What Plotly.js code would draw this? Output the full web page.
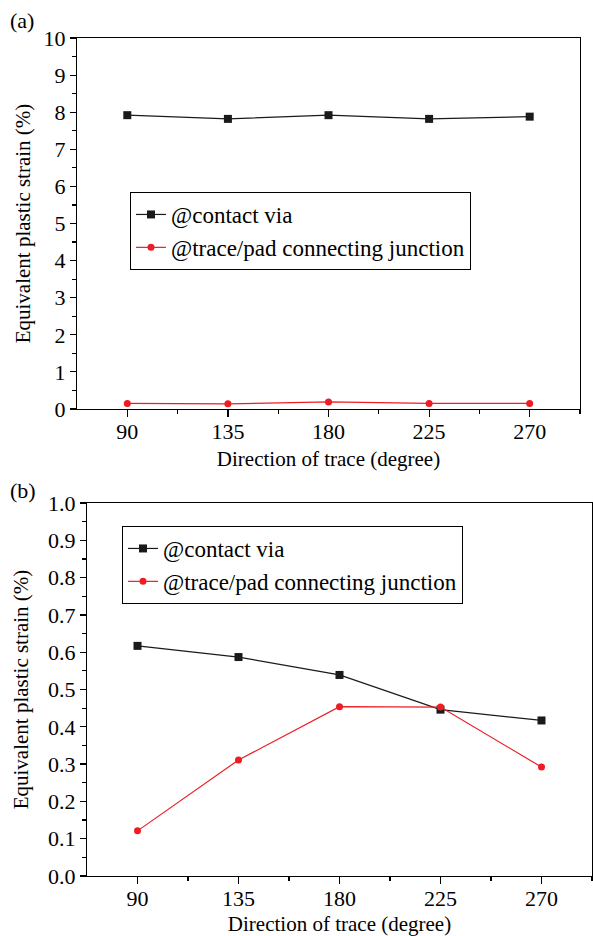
<!DOCTYPE html>
<html><head><meta charset="utf-8">
<script src="https://cdn.plot.ly/plotly-3.0.1.min.js"></script>
<style>html,body{margin:0;padding:0;background:#fff}</style>
</head><body>
<div id="chart" style="width:593px;height:936px"></div>
<script>
const directions = [90, 135, 180, 225, 270];
const tickLabels = ['90', '135', '180', '225', '270'];
const aContactVia = [7.92, 7.82, 7.92, 7.82, 7.88];
const aJunction = [0.15, 0.14, 0.19, 0.15, 0.15];
const bContactVia = [0.617, 0.587, 0.539, 0.446, 0.417];
const bJunction = [0.121, 0.311, 0.454, 0.453, 0.292];
const seriesNames = ['@contact via', '@trace/pad connecting junction'];

const FONT = "'Liberation Serif', 'Times New Roman', serif";
const W = 593, H = 936;
const px = v => v / W, py = v => 1 - v / H;

const blackLine = {color: '#1a1a1a', width: 1.2};
const redLine = {color: '#ee1c25', width: 1.2};
const sq = {symbol: 'square', size: 8, color: '#1a1a1a'};
const ci = {symbol: 'circle', size: 7, color: '#ee1c25'};

const traces = [
  {x: directions, y: aContactVia, name: seriesNames[0], mode: 'lines+markers', line: blackLine, marker: sq, xaxis: 'x', yaxis: 'y', legend: 'legend'},
  {x: directions, y: aJunction, name: seriesNames[1], mode: 'lines+markers', line: redLine, marker: ci, xaxis: 'x', yaxis: 'y', legend: 'legend'},
  {x: directions, y: bContactVia, name: seriesNames[0], mode: 'lines+markers', line: blackLine, marker: sq, xaxis: 'x2', yaxis: 'y2', legend: 'legend2'},
  {x: directions, y: bJunction, name: seriesNames[1], mode: 'lines+markers', line: redLine, marker: ci, xaxis: 'x2', yaxis: 'y2', legend: 'legend2'}
];

const tickFont = {family: FONT, size: 22, color: '#000'};
const titleFont = {family: FONT, size: 21, color: '#000'};
const xr = [67.5, 292.5];

function xAxis(domain, anchor) {
  return {domain, anchor, range: xr, tickvals: directions, ticktext: tickLabels,
    ticks: 'outside', ticklen: 7, tickwidth: 1.2, tickcolor: '#000', ticklabelstandoff: -5,
    minor: {tickvals: [112.5, 157.5, 202.5, 247.5, 292.5], ticks: 'outside', ticklen: 4, tickwidth: 1.2, tickcolor: '#000'},
    showline: true, linecolor: '#000', linewidth: 1.2, mirror: true, showgrid: false, zeroline: false,
    tickfont: tickFont, title: {text: 'Direction of trace (degree)', font: titleFont, standoff: 8}};
}
function yAxis(domain, anchor, range, dtick, minorD, fmt, standoff) {
  return {domain, anchor, range, dtick, tick0: 0, tickformat: fmt,
    ticks: 'outside', ticklen: 6, tickwidth: 1.2, tickcolor: '#000',
    minor: {dtick: minorD, tick0: 0, ticks: 'outside', ticklen: 4, tickwidth: 1.2, tickcolor: '#000'},
    showline: true, linecolor: '#000', linewidth: 1.2, mirror: true, showgrid: false, zeroline: false,
    tickfont: tickFont, title: {text: 'Equivalent plastic strain (%)', font: titleFont, standoff}};
}
function xMirror(over, domain, anchor) {
  return {overlaying: over, side: 'top', anchor, domain, range: xr, tickvals: directions,
    ticks: 'inside', ticklen: 7, tickwidth: 1.2, tickcolor: '#000', showticklabels: false,
    minor: {tickvals: [112.5, 157.5, 202.5, 247.5], ticks: 'inside', ticklen: 5, tickwidth: 1.2, tickcolor: '#000'},
    showline: false, showgrid: false, zeroline: false};
}
function yMirror(over, domain, anchor, range, dtick, minorD) {
  return {overlaying: over, side: 'right', anchor, domain, range, dtick, tick0: 0,
    ticks: 'inside', ticklen: 6, tickwidth: 1.2, tickcolor: '#000', showticklabels: false,
    minor: {dtick: minorD, tick0: 0, ticks: 'inside', ticklen: 4, tickwidth: 1.2, tickcolor: '#000'},
    showline: false, showgrid: false, zeroline: false};
}

const xdA = [px(77), px(580)], ydA = [py(409), py(38)];
const xdB = [px(87), px(592)], ydB = [py(876), py(503)];

const legendFont = {family: FONT, size: 23, color: '#000'};
const layout = {
  width: W, height: H, margin: {l: 0, r: 0, t: 0, b: 0},
  paper_bgcolor: '#fff', plot_bgcolor: 'rgba(0,0,0,0)', showlegend: true,
  font: {family: FONT, color: '#000'},
  xaxis: xAxis(xdA, 'y'),
  yaxis: yAxis(ydA, 'x', [0, 10], 1, 0.5, 'd', 7),
  xaxis2: xAxis(xdB, 'y2'),
  yaxis2: yAxis(ydB, 'x2', [0, 1], 0.1, 0.05, '.1f', 13),
  xaxis3: xMirror('x', xdA, 'y'),
  yaxis3: yMirror('y', ydA, 'x', [0, 10], 1, 0.5),
  xaxis4: xMirror('x2', xdB, 'y2'),
  yaxis4: yMirror('y2', ydB, 'x2', [0, 1], 0.1, 0.05),
  legend: {x: px(130), y: py(192), xanchor: 'left', yanchor: 'top', bgcolor: '#fff',
    bordercolor: '#000', borderwidth: 1, font: legendFont, itemwidth: 30, tracegroupgap: 0},
  legend2: {x: px(122), y: py(526), xanchor: 'left', yanchor: 'top', bgcolor: '#fff',
    bordercolor: '#000', borderwidth: 1, font: legendFont, itemwidth: 30, tracegroupgap: 0},
  annotations: [
    {text: '(a)', x: px(8), y: py(20), xref: 'paper', yref: 'paper', xanchor: 'left', yanchor: 'middle', showarrow: false, font: {family: FONT, size: 22, color: '#000'}},
    {text: '(b)', x: px(8), y: py(490), xref: 'paper', yref: 'paper', xanchor: 'left', yanchor: 'middle', showarrow: false, font: {family: FONT, size: 22, color: '#000'}}
  ]
};

Plotly.newPlot('chart', traces, layout, {displayModeBar: false, staticPlot: true});
</script>
</body></html>
